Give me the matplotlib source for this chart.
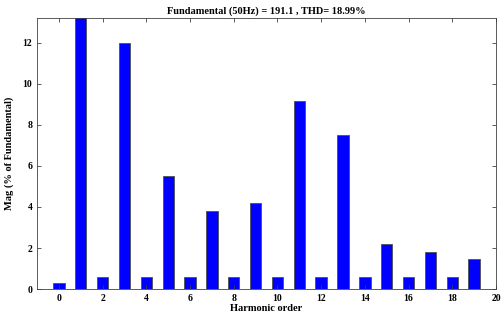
import numpy as np
from matplotlib import pyplot as plt

# harmonic spectrum (% of fundamental)
order = np.arange(20)
mag = [0.28, 100.0, 0.6, 12.0, 0.6, 5.5, 0.6, 3.8, 0.6, 4.2,
       0.6, 9.15, 0.6, 7.5, 0.6, 2.2, 0.6, 1.8, 0.6, 1.45]
xticks = np.arange(0, 21, 2)
yticks = np.arange(0, 13, 2)

plt.rcParams['font.family'] = ['Liberation Serif', 'DejaVu Serif']
plt.rcParams['font.weight'] = 'bold'

fig = plt.figure(figsize=(5.01, 3.23), dpi=100)
ax = fig.add_axes([0.074, 0.105, 0.916, 0.839])

ax.bar(order, mag, width=0.52, color='#0000ff', edgecolor='#505050', linewidth=0.6)
ax.set_xlim(-1, 20)
ax.set_ylim(0, 13.2)
ax.set_xticks(xticks)
ax.set_yticks(yticks)
ax.tick_params(direction='in', top=True, right=True, labelsize=7, length=3, width=0.6,
               color='#404040')
for s in ax.spines.values():
    s.set_linewidth(0.6)
    s.set_color('#404040')

ax.set_title('Fundamental (50Hz) = 191.1 , THD= 18.99%', fontsize=7.5, fontweight='bold', pad=3)
ax.set_xlabel('Harmonic order', fontsize=7.5, fontweight='bold', labelpad=1)
ax.set_ylabel('Mag (% of Fundamental)', fontsize=7.5, fontweight='bold', labelpad=6)

fig.savefig('out.png', dpi=100)
